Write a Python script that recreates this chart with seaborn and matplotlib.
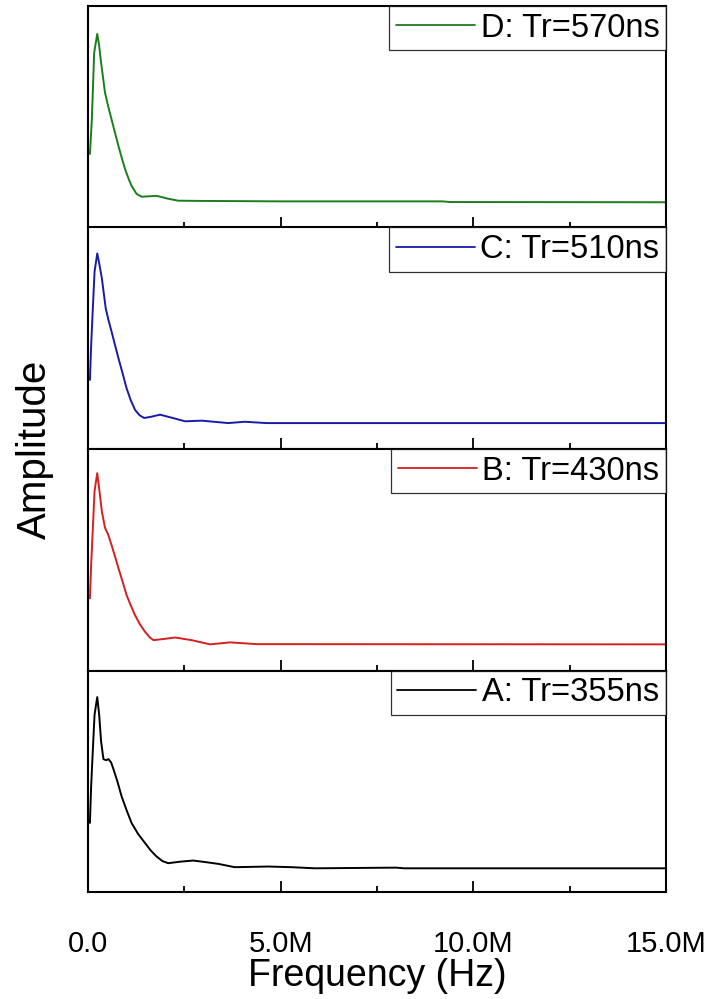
import matplotlib
matplotlib.use("Agg")
import matplotlib.pyplot as plt
import seaborn as sns
import pandas as pd

# ---- data (frequency in MHz, amplitude in arbitrary units) ----
freq_A = [0.05, 0.08, 0.11, 0.17, 0.24, 0.29, 0.34, 0.40, 0.47, 0.53, 0.60, 0.66, 0.77, 0.87, 1.0, 1.13,
          1.3, 1.48, 1.63, 1.78, 1.93, 2.08, 2.4, 2.73, 3.05, 3.38, 3.81, 4.68, 5.29, 5.89, 8.0, 8.2, 15.0]
amp_A = [0.312, 0.47, 0.585, 0.80, 0.880, 0.80, 0.68, 0.60, 0.595, 0.60, 0.585, 0.555, 0.495, 0.433, 0.37, 0.312,
         0.262, 0.221, 0.187, 0.16, 0.14, 0.13, 0.137, 0.142, 0.135, 0.127, 0.112, 0.115, 0.112, 0.107, 0.110,
         0.107, 0.107]

freq_B = [0.05, 0.08, 0.11, 0.17, 0.24, 0.29, 0.36, 0.44, 0.52, 0.61, 0.70, 0.79, 0.9, 1.0, 1.11, 1.22,
          1.35, 1.48, 1.60, 1.70, 2.0, 2.26, 2.69, 3.17, 3.69, 4.38, 15.0]
amp_B = [0.326, 0.47, 0.582, 0.81, 0.891, 0.82, 0.718, 0.645, 0.615, 0.567, 0.515, 0.462, 0.40, 0.341, 0.294,
         0.25, 0.208, 0.175, 0.150, 0.137, 0.143, 0.149, 0.137, 0.118, 0.127, 0.119, 0.118]

freq_C = [0.05, 0.08, 0.11, 0.17, 0.24, 0.30, 0.36, 0.46, 0.53, 0.61, 0.70, 0.79, 0.9, 1.0, 1.11, 1.22,
          1.34, 1.46, 1.65, 1.87, 2.2, 2.52, 2.95, 3.64, 4.07, 4.64, 15.0]
amp_C = [0.312, 0.46, 0.577, 0.80, 0.883, 0.83, 0.770, 0.635, 0.583, 0.531, 0.47, 0.41, 0.34, 0.275, 0.22,
         0.177, 0.152, 0.14, 0.146, 0.155, 0.14, 0.125, 0.128, 0.117, 0.123, 0.117, 0.117]

freq_D = [0.05, 0.10, 0.16, 0.24, 0.29, 0.33, 0.44, 0.52, 0.61, 0.70, 0.79, 0.88, 0.96, 1.05, 1.13, 1.26,
          1.39, 1.60, 1.78, 2.08, 2.34, 2.95, 5.0, 9.2, 9.4, 15.0]
amp_D = [0.332, 0.489, 0.789, 0.874, 0.82, 0.758, 0.61, 0.55, 0.489, 0.428, 0.368, 0.312, 0.265, 0.222, 0.188,
         0.152, 0.139, 0.141, 0.143, 0.130, 0.121, 0.120, 0.118, 0.118, 0.115, 0.114]

labels = ["D: Tr=570ns", "C: Tr=510ns", "B: Tr=430ns", "A: Tr=355ns"]
colors = ["#1c7d1c", "#1a1aa8", "#d42020", "#000000"]
series = [(freq_D, amp_D), (freq_C, amp_C), (freq_B, amp_B), (freq_A, amp_A)]

major_ticks = [0, 5e6, 10e6, 15e6]
major_labels = ["0.0", "5.0M", "10.0M", "15.0M"]
minor_ticks = [2.5e6, 7.5e6, 12.5e6]

sns.set_style("ticks")
plt.rcParams["font.family"] = ["Liberation Sans", "DejaVu Sans"]
plt.rcParams["text.color"] = "black"
plt.rcParams["xtick.color"] = "black"
plt.rcParams["xtick.labelcolor"] = "black"
plt.rcParams["axes.labelcolor"] = "black"

fig = plt.figure(figsize=(7.05, 9.99), dpi=100)
left, width = 88 / 705, (666 - 88) / 705
top_px, bottom_px = 6, 892
ph = (bottom_px - top_px) / 4

for i, ((f, a), lab, col) in enumerate(zip(series, labels, colors)):
    y0 = 1 - (top_px + ph * (i + 1)) / 999
    ax = fig.add_axes([left, y0, width, ph / 999])
    df = pd.DataFrame({"Frequency": [v * 1e6 for v in f], "Amplitude": a})
    sns.lineplot(data=df, x="Frequency", y="Amplitude", ax=ax, color=col,
                 linewidth=1.4, label=lab, sort=True)
    ax.set_xlim(0, 15e6)
    ax.set_ylim(0, 1)
    ax.set_yticks([])
    ax.set_ylabel("")
    ax.set_xlabel("")
    ax.set_xticks(major_ticks)
    ax.set_xticks(minor_ticks, minor=True)
    ax.tick_params(axis="x", which="major", direction="in", length=8, width=1.3, pad=27,
                   labelsize=21, colors="black")
    ax.tick_params(axis="x", which="minor", direction="in", length=4.5, width=1.3, colors="black")
    if i < 3:
        ax.tick_params(axis="x", which="both", labelbottom=False)
    else:
        ax.set_xticklabels(major_labels)
    for s in ax.spines.values():
        s.set_visible(True)
        s.set_linewidth(1.5)
        s.set_color("black")
    leg = ax.legend(loc="upper right", fontsize=23.5, frameon=True, fancybox=False,
                    borderaxespad=0, handlelength=2.42, handletextpad=0.18,
                    borderpad=0.2)
    leg.get_frame().set_edgecolor("black")
    leg.get_frame().set_linewidth(0.9)
    for t in leg.get_texts():
        t.set_color("black")
    for h in leg.get_lines():
        h.set_linewidth(1.3)
    if i == 3:
        ax.set_xlabel("Frequency (Hz)", fontsize=27, labelpad=0, color="black")

fig.text(35 / 705, 1 - 449 / 999, "Amplitude", rotation=90, fontsize=29,
         ha="center", va="center", color="black")

fig.savefig("out.png", dpi=100)
